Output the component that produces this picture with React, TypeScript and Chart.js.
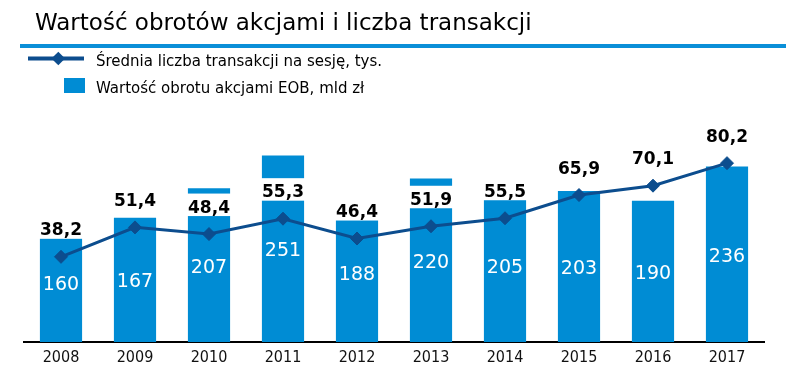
import React, { useEffect, useRef } from 'react';
import { Chart, registerables } from 'chart.js';

Chart.register(...registerables);

const years = ['2008', '2009', '2010', '2011', '2012', '2013', '2014', '2015', '2016', '2017'];
const turnover = [160, 167, 207, 251, 188, 220, 205, 203, 190, 236];
const transactions = [38.2, 51.4, 48.4, 55.3, 46.4, 51.9, 55.5, 65.9, 70.1, 80.2];

const titleText = 'Wartość obrotów akcjami i liczba transakcji';
const legendLineText = 'Średnia liczba transakcji na sesję, tys.';
const legendBarText = 'Wartość obrotu akcjami EOB, mld zł';

const BAR = '#008cd4';
const NAVY = '#0c4d8e';
const RULE = '#0a8fd8';
const FONT = "'DejaVu Sans', Verdana, sans-serif";
const TICK_FONT = "'DejaVu Sans Condensed', 'DejaVu Sans', sans-serif";

const fmt = (v: number) => v.toFixed(1).replace('.', ',');

const decor = {
  id: 'decor',
  beforeDraw(chart: any) {
    const ctx = chart.ctx;
    ctx.save();
    ctx.fillStyle = '#fff';
    ctx.fillRect(0, 0, chart.width, chart.height);
    ctx.textAlign = 'left';
    ctx.textBaseline = 'alphabetic';
    ctx.fillStyle = '#000';
    ctx.font = `23px ${FONT}`;
    ctx.fillText(titleText, 35, 30);
    ctx.fillStyle = RULE;
    ctx.fillRect(20, 44, 766, 4);
    // legend: line with diamond
    ctx.strokeStyle = NAVY;
    ctx.lineWidth = 4;
    ctx.beginPath();
    ctx.moveTo(28, 58.5);
    ctx.lineTo(84, 58.5);
    ctx.stroke();
    ctx.fillStyle = NAVY;
    ctx.beginPath();
    ctx.moveTo(51.5, 58.5);
    ctx.lineTo(58.3, 51.7);
    ctx.lineTo(65.1, 58.5);
    ctx.lineTo(58.3, 65.3);
    ctx.closePath();
    ctx.fill();
    // legend: bar square
    ctx.fillStyle = BAR;
    ctx.fillRect(64, 78, 21, 15);
    ctx.fillStyle = '#000';
    ctx.font = `15px ${FONT}`;
    ctx.fillText(legendLineText, 96, 65.7);
    ctx.fillText(legendBarText, 96, 93.3);
    ctx.restore();
  },
  afterDatasetDraw(chart: any, args: any) {
    if (args.index !== 0) return;
    const ctx = chart.ctx;
    ctx.save();
    const barMeta = chart.getDatasetMeta(0);
    ctx.font = `19px ${FONT}`;
    ctx.fillStyle = '#fff';
    ctx.textAlign = 'center';
    ctx.textBaseline = 'alphabetic';
    barMeta.data.forEach((el: any, i: number) => {
      const { x, y, base } = el.getProps(['x', 'y', 'base'], true);
      ctx.fillText(String(turnover[i]), x, (y + base) / 2 + 7.5);
    });
    const lineMeta = chart.getDatasetMeta(1);
    ctx.font = `bold 17px ${FONT}`;
    ctx.fillStyle = '#fff';
    lineMeta.data.forEach((pt: any, i: number) => {
      const w = ctx.measureText(fmt(transactions[i])).width;
      ctx.fillRect(pt.x - w / 2 - 6, pt.y - 40.5, w + 12, 22.5);
    });
    ctx.restore();
  },
  afterDatasetsDraw(chart: any) {
    const ctx = chart.ctx;
    ctx.save();
    const lineMeta = chart.getDatasetMeta(1);
    ctx.font = `bold 17px ${FONT}`;
    ctx.fillStyle = '#000';
    ctx.textAlign = 'center';
    ctx.textBaseline = 'alphabetic';
    lineMeta.data.forEach((pt: any, i: number) => {
      ctx.fillText(fmt(transactions[i]), pt.x, pt.y - 21.5);
    });
    ctx.restore();
  },
};

export default function App() {
  const ref = useRef<HTMLCanvasElement | null>(null);
  useEffect(() => {
    if (!ref.current) return;
    const chart = new Chart(ref.current, {
      type: 'bar',
      data: {
        labels: years,
        datasets: [
          {
            type: 'bar',
            label: legendBarText,
            data: turnover,
            backgroundColor: BAR,
            borderWidth: 0,
            yAxisID: 'y',
            categoryPercentage: 1,
            barPercentage: 0.57,
            order: 1,
          },
          {
            type: 'line',
            label: legendLineText,
            data: transactions,
            borderColor: NAVY,
            backgroundColor: NAVY,
            borderWidth: 3,
            pointStyle: 'rectRot',
            pointRadius: 6.5,
            pointBackgroundColor: NAVY,
            pointBorderColor: NAVY,
            pointBorderWidth: 1,
            tension: 0,
            yAxisID: 'y2',
            order: 0,
          } as any,
        ],
      },
      options: {
        responsive: false,
        animation: false,
        devicePixelRatio: 1,
        layout: { padding: { left: 24, right: 22, top: 119, bottom: 0 } },
        plugins: { legend: { display: false }, tooltip: { enabled: false }, title: { display: false } },
        scales: {
          x: {
            grid: { display: false, drawTicks: false },
            border: { display: true, color: '#000', width: 2 },
            ticks: { color: '#111', font: { family: TICK_FONT, size: 16 }, padding: 6 },
            afterFit: (s: any) => {
              s.height = 32;
            },
          },
          y: { display: false, min: 0, max: 300 },
          y2: { display: false, min: 0, max: 100, position: 'right' },
        },
      },
      plugins: [decor],
    } as any);
    return () => chart.destroy();
  }, []);
  return (
    <div style={{ position: 'fixed', left: 0, top: 0, width: 786, height: 374, background: '#fff' }}>
      <canvas ref={ref} width={786} height={374} style={{ display: 'block', width: 786, height: 374 }} />
    </div>
  );
}
